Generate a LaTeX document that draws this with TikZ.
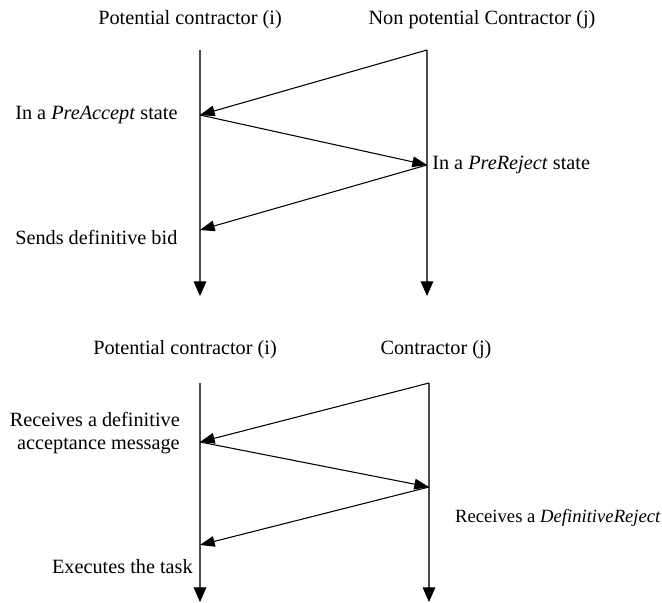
\documentclass[tikz,border=0pt]{standalone}
\usepackage{fontspec}
\setmainfont{Liberation Serif}
\usetikzlibrary{arrows.meta}

\tikzset{
	lifeline/.style = {draw = black!70, line width = 0.8pt, -{Triangle[length = 11pt, width = 9.5pt, color = black]}},
	msg/.style = {draw = black, line width = 0.8pt, -{Triangle[length = 11pt, width = 8pt]}},
	lbl/.style = {inner sep = 0pt, font = \fontsize{15.2}{17}\selectfont}
}

\begin{document}
\begin{tikzpicture}[x = 0.75pt, y = -0.75pt]
	\useasboundingbox (0,0) rectangle (662,603);

	% first exchange
	\node (pc1)[lbl] at (190,20) {Potential contractor (i)};
	\node (npc)[lbl] at (482,20) {Non potential Contractor (j)};

	\coordinate (i1top) at (200,50);
	\coordinate (i1end) at (200,296);
	\coordinate (j1top) at (427,50);
	\coordinate (j1end) at (427,296);
	\coordinate (i1a) at (200,115);
	\coordinate (j1b) at (427,165);
	\coordinate (i1c) at (200,230);

	\draw [lifeline](i1top)--(i1end);
	\draw [lifeline](j1top)--(j1end);
	\draw [msg](j1top)--(i1a);
	\draw [msg](i1a)--(j1b);
	\draw [msg](j1b)--(i1c);

	\node (s1)[lbl, anchor = west] at (15,115) {In a \emph{PreAccept} state};
	\node (s2)[lbl, anchor = west] at (432,165) {In a \emph{PreReject} state};
	\node (s3)[lbl, anchor = west] at (15,237) {Sends definitive bid};

	% second exchange
	\node (pc2)[lbl] at (185,350) {Potential contractor (i)};
	\node (ctr)[lbl] at (436,350) {Contractor (j)};

	\coordinate (i2top) at (200,383);
	\coordinate (i2end) at (200,602);
	\coordinate (j2top) at (429,383);
	\coordinate (j2end) at (429,602);
	\coordinate (i2a) at (200,442);
	\coordinate (j2b) at (429,487);
	\coordinate (i2c) at (200,545);

	\draw [lifeline](i2top)--(i2end);
	\draw [lifeline](j2top)--(j2end);
	\draw [msg](j2top)--(i2a);
	\draw [msg](i2a)--(j2b);
	\draw [msg](j2b)--(i2c);

	\node (r1)[lbl, anchor = east, align = right] at (180,433) {Receives a definitive\\acceptance message};
	\node (r2)[lbl, anchor = east, font = \fontsize{14}{17}\selectfont] at (661,518) {Receives a \emph{DefinitiveReject}};
	\node (r3)[lbl, anchor = east] at (193,567) {Executes the task};
\end{tikzpicture}
\end{document}
